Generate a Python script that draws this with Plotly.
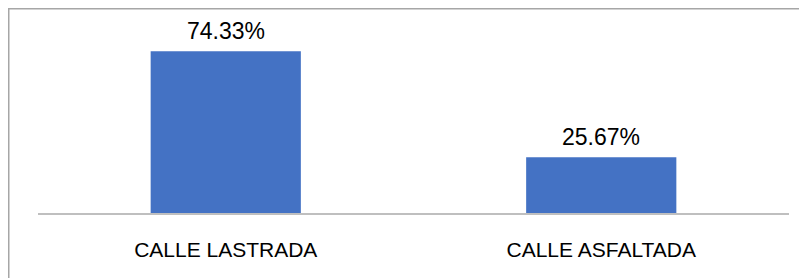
import plotly.graph_objects as go

categories = ["CALLE LASTRADA", "CALLE ASFALTADA"]
values = [74.33, 25.67]
labels = ["74.33%", "25.67%"]

FONT = "Liberation Sans"

fig = go.Figure()
fig.add_trace(go.Bar(
    x=categories, y=values,
    marker=dict(color="#4472C4", line=dict(width=0)),
    hoverinfo="skip",
))

for c, v, t in zip(categories, values, labels):
    fig.add_annotation(
        x=c, y=v, text=t, showarrow=False,
        yanchor="bottom", yshift=5,
        font=dict(family=FONT, size=23, color="#000000"),
    )

L, R, T, B = 30, 26, 31, 73
W, H = 807, 278
pw, ph = W - L - R, H - T - B

fig.update_layout(
    width=W, height=H,
    margin=dict(l=L, r=R, t=T, b=B),
    paper_bgcolor="white", plot_bgcolor="white",
    bargap=0.6,
    showlegend=False,
    font=dict(family=FONT, color="#000000"),
    xaxis=dict(
        showline=True, linecolor="#BFBFBF", linewidth=1.5,
        ticks="", showgrid=False,
        tickfont=dict(family=FONT, size=21, color="#000000"),
        ticklabelstandoff=17,
    ),
    yaxis=dict(range=[0, 80], visible=False, showgrid=False),
    shapes=[dict(
        type="rect", xref="paper", yref="paper",
        x0=(0.75 - L) / pw, x1=(W + 20 - L) / pw,
        y0=-(B + 20) / ph, y1=(ph + T - 0.75) / ph,
        line=dict(color="#A6A6A6", width=1.5),
        fillcolor="rgba(0,0,0,0)", layer="below",
    )],
)

fig.write_html("out.html")
